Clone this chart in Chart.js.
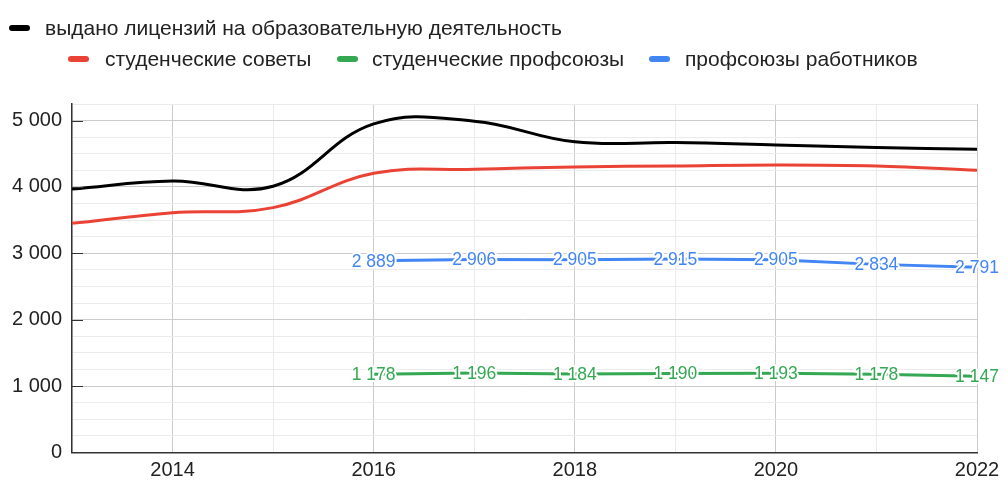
<!DOCTYPE html>
<html lang="ru">
<head>
<meta charset="utf-8">
<script src="https://cdn.jsdelivr.net/npm/chart.js@4/dist/chart.umd.min.js"></script>
<style>
  html,body{margin:0;padding:0;background:#fff;}
  #wrap{position:relative;width:1007px;height:482px;font-family:Arial,"Liberation Sans",sans-serif;}
  #chart{position:absolute;left:0;top:0;}
  .item{position:absolute;font-size:21px;color:#222;white-space:nowrap;line-height:21px;}
  .sw{position:absolute;width:21px;height:6px;border-radius:3px;}
</style>
</head>
<body>
<div id="wrap">
  <canvas id="chart" width="1007" height="482"></canvas>
  <div id="legend"></div>
</div>
<script>
// data
const years = [2013, 2014, 2015, 2016, 2017, 2018, 2019, 2020, 2021, 2022];
const licenses = [3970, 4090, 4010, 4950, 4990, 4680, 4670, 4634, 4595, 4569];
const councils = [3452, 3613, 3689, 4207, 4267, 4302, 4317, 4332, 4317, 4252];
const studentUnions = [null, null, null, 1178, 1196, 1184, 1190, 1193, 1178, 1147];
const staffUnions = [null, null, null, 2889, 2906, 2905, 2915, 2905, 2834, 2791];
const seriesNames = ['выдано лицензий на образовательную деятельность', 'студенческие советы', 'студенческие профсоюзы', 'профсоюзы работников'];
const yTicks = [0, 1000, 2000, 3000, 4000, 5000];
const xTicks = [2014, 2016, 2018, 2020, 2022];

const colors = ['#000000', '#ea4335', '#34a853', '#4285f4'];
const FONT = 'Arial, "Liberation Sans", sans-serif';

function fmt(v){ return String(v).replace(/\B(?=(\d{3})+(?!\d))/g, ' '); }
function pts(arr){ return years.map((x,i)=>({x, y: arr[i]})).filter(p=>p.y!==null); }

// legend (html, positioned like the original)
const legendPos = [
  {sw:[9,25], tx:[45,17]},
  {sw:[68,56], tx:[105,48]},
  {sw:[337,56], tx:[372,48]},
  {sw:[649,56], tx:[685,48]}
];
const legendEl = document.getElementById('legend');
seriesNames.forEach((name,i)=>{
  const p = legendPos[i];
  const sw = document.createElement('div');
  sw.className = 'sw';
  sw.style.left = p.sw[0]+'px'; sw.style.top = p.sw[1]+'px'; sw.style.background = colors[i];
  const tx = document.createElement('div');
  tx.className = 'item';
  tx.style.left = p.tx[0]+'px'; tx.style.top = p.tx[1]+'px';
  tx.textContent = name;
  legendEl.appendChild(sw); legendEl.appendChild(tx);
});

// value labels with a white halo, line shows through the gaps
const pointLabels = {
  id: 'pointLabels',
  afterDatasetsDraw(chart){
    const ctx = chart.ctx;
    chart.data.datasets.forEach((ds, di)=>{
      if(!ds.showLabels) return;
      const meta = chart.getDatasetMeta(di);
      ctx.save();
      ctx.font = '17.5px ' + FONT;
      ctx.textAlign = 'center';
      ctx.textBaseline = 'middle';
      ctx.lineJoin = 'round';
      meta.data.forEach((el, i)=>{
        const t = fmt(ds.data[i].y);
        ctx.strokeStyle = '#fff';
        ctx.lineWidth = 4;
        ctx.strokeText(t, el.x, el.y + 1);
        ctx.fillStyle = ds.borderColor;
        ctx.fillText(t, el.x, el.y + 1);
      });
      ctx.restore();
    });
  }
};

// small dark marks at the major y ticks
const axisMarks = {
  id: 'axisMarks',
  afterDraw(chart){
    const ctx = chart.ctx, y = chart.scales.y, a = chart.chartArea;
    ctx.save();
    ctx.strokeStyle = '#333';
    ctx.lineWidth = 1;
    yTicks.forEach(v=>{
      if(v===0) return;
      const py = Math.round(y.getPixelForValue(v)) + 0.5;
      ctx.beginPath(); ctx.moveTo(a.left, py); ctx.lineTo(a.left+11, py); ctx.stroke();
    });
    ctx.restore();
  }
};

const ds = (i, arr, tension, labels) => ({
  label: seriesNames[i], data: pts(arr), borderColor: colors[i], backgroundColor: colors[i],
  borderWidth: 3, pointRadius: 0, tension, showLabels: labels
});

new Chart(document.getElementById('chart'), {
  type: 'line',
  data: { datasets: [
    ds(0, licenses, 0.4, false),
    ds(1, councils, 0.4, false),
    ds(2, studentUnions, 0, true),
    ds(3, staffUnions, 0, true)
  ]},
  options: {
    responsive: false,
    animation: false,
    devicePixelRatio: 1,
    layout: { padding: { top: 104, right: 30, left: 0, bottom: 0 } },
    plugins: { legend: { display: false }, tooltip: { enabled: false } },
    scales: {
      x: {
        type: 'linear', min: 2013, max: 2022,
        afterFit(s){ s.height = 29.5; },
        ticks: { stepSize: 1, autoSkip: false, maxRotation: 0, padding: 6,
          color: '#222', font: { family: FONT, size: 20 },
          callback: v => xTicks.includes(v) ? String(v) : '' },
        grid: { drawTicks: false, color: c => (c.tick && c.tick.value % 2 === 0) ? '#cccccc' : '#ebebeb' },
        border: { color: '#333', width: 1.5 }
      },
      y: {
        min: 0, max: 5250,
        afterFit(s){ s.width = 72; },
        ticks: { stepSize: 250, autoSkip: false, padding: 10,
          color: '#222', font: { family: FONT, size: 20 },
          callback: v => yTicks.includes(v) ? fmt(v) : '' },
        grid: { drawTicks: false, color: c => (c.tick && c.tick.value % 1000 === 0) ? '#cccccc' : '#ebebeb' },
        border: { color: '#333', width: 1.5 }
      }
    }
  },
  plugins: [pointLabels, axisMarks]
});
</script>
</body>
</html>
